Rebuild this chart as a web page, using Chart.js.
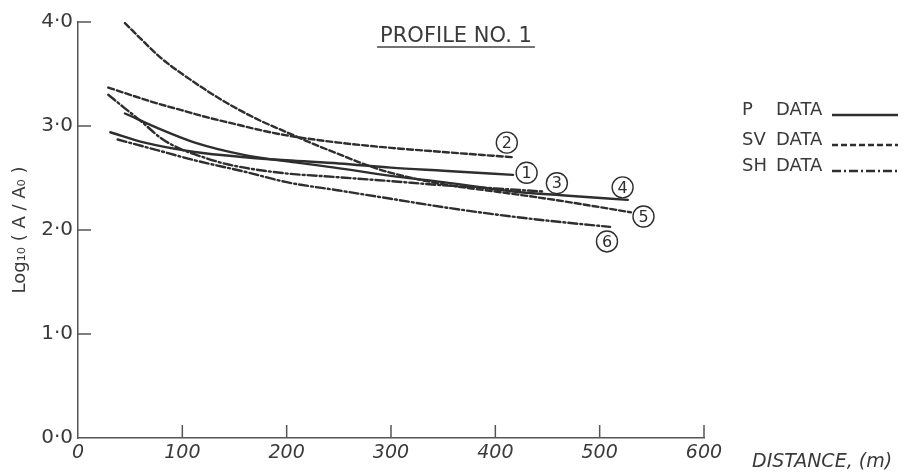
<!DOCTYPE html>
<html>
<head>
<meta charset="utf-8">
<script src="https://cdn.jsdelivr.net/npm/chart.js@4.4.1/dist/chart.umd.min.js"></script>
<style>
  html, body { margin: 0; padding: 0; background: #ffffff; }
  #wrap { width: 905px; height: 475px; }
</style>
</head>
<body>
<div id="wrap"><canvas id="c" width="905" height="475"></canvas></div>
<script>
// ---------- data ----------
const chartTitle = 'PROFILE NO. 1';
const xAxisTitle = 'DISTANCE, (m)';
const yAxisTitle = 'Log₁₀ ( A / A₀ )';

const xTickValues = [0, 100, 200, 300, 400, 500, 600];
const xTickLabels = ['0', '100', '200', '300', '400', '500', '600'];
const yTickValues = [0, 1, 2, 3, 4];
const yTickLabels = ['0·0', '1·0', '2·0', '3·0', '4·0'];

// curve 1 (P data)
const curve1X = [31, 64, 112, 160, 200, 250, 300, 350, 417];
const curve1Y = [2.94, 2.84, 2.75, 2.70, 2.67, 2.64, 2.60, 2.57, 2.53];
// curve 2 (SV data)
const curve2X = [29, 50, 75, 100, 125, 150, 175, 200, 250, 300, 350, 417];
const curve2Y = [3.37, 3.30, 3.22, 3.15, 3.08, 3.02, 2.96, 2.91, 2.84, 2.79, 2.75, 2.70];
// curve 3 (SH data)
const curve3X = [29, 45, 60, 80, 96, 120, 144, 194, 246, 300, 350, 400, 446];
const curve3Y = [3.30, 3.17, 3.05, 2.88, 2.79, 2.70, 2.63, 2.55, 2.51, 2.47, 2.43, 2.40, 2.37];
// curve 4 (P data)
const curve4X = [45, 81, 112, 160, 208, 246, 300, 350, 417, 470, 527];
const curve4Y = [3.12, 2.96, 2.84, 2.72, 2.65, 2.60, 2.52, 2.46, 2.37, 2.33, 2.29];
// curve 5 (SV data)
const curve5X = [45, 60, 80, 100, 125, 150, 175, 200, 225, 250, 275, 300, 350, 400, 450, 500, 530];
const curve5Y = [3.99, 3.84, 3.65, 3.50, 3.33, 3.18, 3.05, 2.94, 2.83, 2.73, 2.63, 2.55, 2.44, 2.37, 2.30, 2.22, 2.17];
// curve 6 (SH data)
const curve6X = [38, 75, 112, 160, 200, 250, 300, 350, 400, 450, 510];
const curve6Y = [2.87, 2.77, 2.67, 2.56, 2.46, 2.38, 2.30, 2.22, 2.15, 2.09, 2.03];

// circled curve numbers (data coordinates of circle centres)
const curveNumbers = ['1', '2', '3', '4', '5', '6'];
const curveNumberX = [430, 411, 459, 522, 542, 507];
const curveNumberY = [2.55, 2.84, 2.45, 2.41, 2.13, 1.89];

const legendKinds = ['P', 'SV', 'SH'];
const legendWord = 'DATA';

// ---------- styles ----------
const INK = '#2e2e2e';
const TEXT = '#3a3a3a';
const AXIS = '#555555';
const FONT = '"DejaVu Sans", "Liberation Sans", sans-serif';
const DASH_P = [];
const DASH_SV = [6, 3];
const DASH_SH = [9, 3, 2, 3];

function pts(xs, ys) { return xs.map((x, i) => ({ x: x, y: ys[i] })); }
function ds(label, xs, ys, dash) {
  return {
    label: label, data: pts(xs, ys), borderColor: INK, borderWidth: 2.4,
    borderDash: dash, pointRadius: 0, fill: false,
    cubicInterpolationMode: 'monotone', borderCapStyle: 'round'
  };
}

const figurePlugin = {
  id: 'figure',
  afterDraw(chart) {
    const ctx = chart.ctx;
    const xs = chart.scales.x, ys = chart.scales.y;
    const x0 = xs.getPixelForValue(0), y0 = ys.getPixelForValue(0);
    ctx.save();
    // inward tick marks
    ctx.strokeStyle = AXIS; ctx.lineWidth = 1.5; ctx.lineCap = 'butt';
    yTickValues.forEach(v => {
      if (v === 0) return;
      const py = ys.getPixelForValue(v);
      ctx.beginPath(); ctx.moveTo(x0, py); ctx.lineTo(x0 + 13, py); ctx.stroke();
    });
    xTickValues.forEach(v => {
      if (v === 0) return;
      const px = xs.getPixelForValue(v);
      ctx.beginPath(); ctx.moveTo(px, y0); ctx.lineTo(px, y0 - 13); ctx.stroke();
    });
    // title with underline
    ctx.fillStyle = TEXT;
    ctx.font = '21px ' + FONT;
    ctx.textAlign = 'center'; ctx.textBaseline = 'alphabetic';
    const tx = 456, tyBase = 42;
    ctx.fillText(chartTitle, tx, tyBase);
    const tw = ctx.measureText(chartTitle).width;
    ctx.strokeStyle = '#444'; ctx.lineWidth = 1.3;
    ctx.beginPath(); ctx.moveTo(tx - tw / 2 - 3, tyBase + 5); ctx.lineTo(tx + tw / 2 + 3, tyBase + 5); ctx.stroke();
    // x axis title
    ctx.font = 'italic 19px ' + FONT;
    ctx.textAlign = 'left';
    ctx.fillStyle = TEXT;
    ctx.fillText(xAxisTitle, 752, 467);
    // circled curve numbers
    ctx.lineWidth = 1.4; ctx.strokeStyle = INK;
    ctx.font = '16px ' + FONT; ctx.textAlign = 'center'; ctx.textBaseline = 'middle';
    curveNumbers.forEach((n, i) => {
      const cx = xs.getPixelForValue(curveNumberX[i]);
      const cy = ys.getPixelForValue(curveNumberY[i]);
      ctx.fillStyle = '#ffffff';
      ctx.beginPath(); ctx.arc(cx, cy, 10.5, 0, Math.PI * 2); ctx.fill(); ctx.stroke();
      ctx.fillStyle = INK;
      ctx.fillText(n, cx, cy + 1);
    });
    // legend
    const dashes = [DASH_P, DASH_SV, DASH_SH];
    const rows = [115, 145, 171];
    ctx.font = '18px ' + FONT; ctx.textAlign = 'left'; ctx.textBaseline = 'alphabetic';
    legendKinds.forEach((k, i) => {
      ctx.fillStyle = TEXT;
      ctx.fillText(k, 742, rows[i]);
      ctx.fillText(legendWord, 776, rows[i]);
      ctx.setLineDash(dashes[i]);
      ctx.lineWidth = 2.4; ctx.strokeStyle = INK;
      ctx.beginPath(); ctx.moveTo(832, rows[i]); ctx.lineTo(898, rows[i]); ctx.stroke();
    });
    ctx.setLineDash([]);
    ctx.restore();
  }
};

new Chart(document.getElementById('c'), {
  type: 'line',
  data: {
    datasets: [
      ds('1', curve1X, curve1Y, DASH_P),
      ds('2', curve2X, curve2Y, DASH_SV),
      ds('3', curve3X, curve3Y, DASH_SH),
      ds('4', curve4X, curve4Y, DASH_P),
      ds('5', curve5X, curve5Y, DASH_SV),
      ds('6', curve6X, curve6Y, DASH_SH)
    ]
  },
  options: {
    responsive: false,
    devicePixelRatio: 1,
    animation: false,
    layout: { padding: { left: 0, top: 22, right: 201, bottom: 0 } },
    plugins: { legend: { display: false }, tooltip: { enabled: false } },
    scales: {
      x: {
        type: 'linear', min: 0, max: 600,
        afterBuildTicks(s) { s.ticks = xTickValues.map(v => ({ value: v })); },
        afterFit(s) { s.height = 37; },
        grid: { display: false, drawTicks: false },
        border: { display: true, color: AXIS, width: 1.5 },
        ticks: {
          padding: 4, color: TEXT, maxRotation: 0, autoSkip: false,
          font: { family: FONT, size: 19, style: 'italic' },
          callback: (v) => { const i = xTickValues.indexOf(v); return i >= 0 ? xTickLabels[i] : ''; }
        }
      },
      y: {
        type: 'linear', min: 0, max: 4,
        afterBuildTicks(s) { s.ticks = yTickValues.map(v => ({ value: v })); },
        afterFit(s) { s.width = 78; },
        grid: { display: false, drawTicks: false },
        border: { display: true, color: AXIS, width: 1.5 },
        ticks: {
          padding: 5, color: TEXT, autoSkip: false,
          font: { family: FONT, size: 20 },
          callback: (v) => { const i = yTickValues.indexOf(v); return i >= 0 ? yTickLabels[i] : ''; }
        },
        title: {
          display: true, text: yAxisTitle, color: TEXT,
          font: { family: FONT, size: 18 }, padding: { top: 10, bottom: 0 }
        }
      }
    }
  },
  plugins: [figurePlugin]
});
</script>
</body>
</html>
